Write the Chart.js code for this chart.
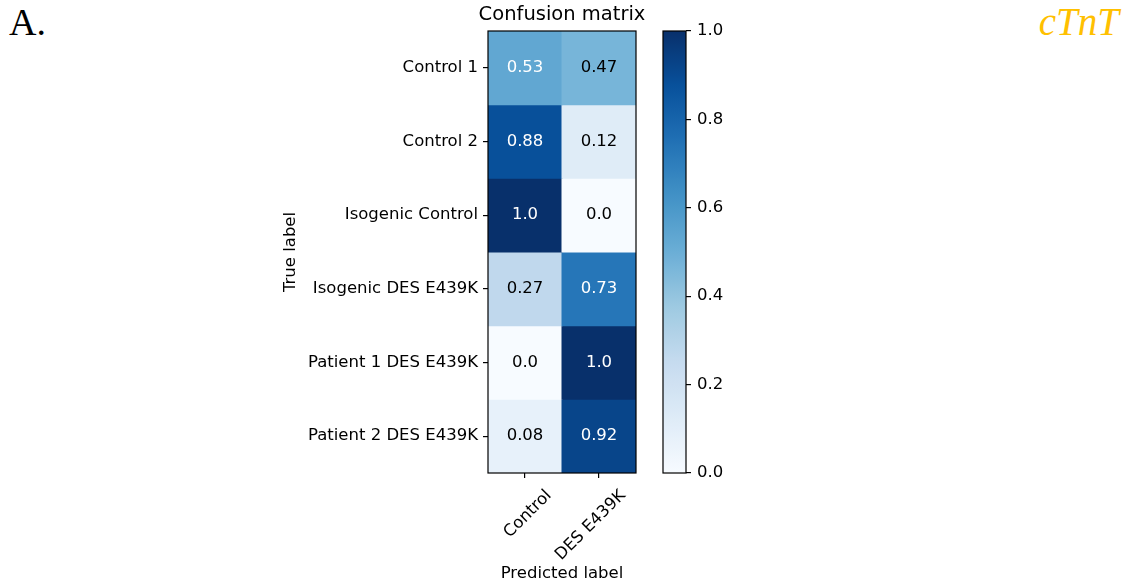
<!DOCTYPE html>
<html><head><meta charset="utf-8">
<script src="https://cdn.jsdelivr.net/npm/chart.js@4.4.1/dist/chart.umd.min.js"></script>
<style>
html,body{margin:0;padding:0;background:#fff;}
#wrap{position:relative;width:1126px;height:588px;overflow:hidden;background:#fff;}
canvas{position:absolute;left:0;top:0;}
.lbl{position:absolute;font-family:"Liberation Serif","DejaVu Serif",serif;font-size:38px;line-height:38px;white-space:nowrap;}
</style></head><body>
<div id="wrap">
<div class="lbl" style="left:9px;top:3px;color:#000;">A.</div>
<div class="lbl" style="right:7px;top:3px;font-style:italic;color:#FFC000;font-size:39px;">cTnT</div>
<canvas id="cm" width="1126" height="588"></canvas>
<canvas id="cb" width="1126" height="588"></canvas>
</div>
<script>
// ---- data ----
const rowLabels = ['Control 1','Control 2','Isogenic Control','Isogenic DES E439K','Patient 1 DES E439K','Patient 2 DES E439K'];
const colLabels = ['Control','DES E439K'];
const predControl = [0.53, 0.88, 1.0, 0.27, 0.0, 0.08];
const predDES     = [0.47, 0.12, 0.0, 0.73, 1.0, 0.92];
const colorbarTicks = [0.0, 0.2, 0.4, 0.6, 0.8, 1.0];
const chartTitle = 'Confusion matrix';
const xTitle = 'Predicted label';
const yTitle = 'True label';

// ---- matplotlib "Blues" colormap ----
const bluesStops = [
  [247,251,255],[222,235,247],[198,219,239],[158,202,225],[107,174,214],
  [66,146,198],[33,113,181],[8,81,156],[8,48,107]
];
function blues(v){
  v = Math.max(0, Math.min(1, v));
  const p = v*(bluesStops.length-1);
  const i = Math.min(Math.floor(p), bluesStops.length-2);
  const t = p - i;
  const a = bluesStops[i], b = bluesStops[i+1];
  const c = a.map((x,k)=>Math.round(x + (b[k]-x)*t));
  return `rgb(${c[0]},${c[1]},${c[2]})`;
}
function fmt(v){ return Number.isInteger(v) ? v.toFixed(1) : String(v); }

const FONT = '"DejaVu Sans", "Liberation Sans", sans-serif';
const matrix = rowLabels.map((_, r) => [predControl[r], predDES[r]]);

const framePlugin = {
  id: 'frame',
  afterDatasetsDraw(chart){
    const {ctx, chartArea:a} = chart;
    ctx.save();
    ctx.strokeStyle = '#000';
    ctx.lineWidth = 1.2;
    ctx.strokeRect(a.left, a.top, a.right - a.left, a.bottom - a.top);
    ctx.restore();
  }
};

const cellTextPlugin = {
  id: 'cellText',
  afterDatasetsDraw(chart){
    const ctx = chart.ctx;
    ctx.save();
    ctx.font = '16.5px ' + FONT;
    ctx.textAlign = 'center';
    ctx.textBaseline = 'middle';
    chart.data.datasets.forEach((ds, r) => {
      const meta = chart.getDatasetMeta(r);
      meta.data.forEach((bar, c) => {
        const v = matrix[r][c];
        const p = bar.getCenterPoint();
        ctx.fillStyle = v > 0.5 ? '#ffffff' : '#000000';
        ctx.fillText(fmt(v), p.x, p.y);
      });
    });
    ctx.restore();
  }
};

const tickGrid = {display:true, drawOnChartArea:false, drawTicks:true, tickLength:5, color:'#000', lineWidth:1.2};

new Chart(document.getElementById('cm'), {
  type: 'bar',
  data: {
    labels: colLabels,
    datasets: rowLabels.map((name, r) => ({
      label: name,
      data: colLabels.map(() => 1),
      backgroundColor: matrix[r].map(blues),
      borderWidth: 0,
      barPercentage: 1,
      categoryPercentage: 1,
      inflateAmount: 0.5
    }))
  },
  options: {
    responsive: false,
    animation: false,
    events: [],
    layout: {padding: {left: 270, right: 272, top: 0, bottom: 0}},
    plugins: {
      legend: {display:false},
      tooltip: {enabled:false},
      title: {
        display: true, text: chartTitle, color:'#000',
        font: {family: FONT, size: 19.5, weight: 'normal'},
        padding: {top: 3.6, bottom: 4}
      }
    },
    scales: {
      x: {
        stacked: true,
        grid: Object.assign({}, tickGrid, {offset:false}),
        border: {display:false},
        ticks: {color:'#000', font:{family:FONT, size:16.5}, maxRotation:45, minRotation:45, padding:8, labelOffset:24, autoSkip:false},
        title: {display:true, text:xTitle, color:'#000', font:{family:FONT, size:16.5}, padding:{top:0, bottom:4}},
        afterFit(s){ s.height = 115; }
      },
      y: {
        type: 'linear', stacked: true, min: 0, max: rowLabels.length, reverse: true,
        grid: tickGrid,
        border: {display:false},
        afterBuildTicks(s){ s.ticks = rowLabels.map((_, i) => ({value: i + 0.5})); },
        ticks: {color:'#000', font:{family:FONT, size:16.5}, padding:5, autoSkip:false,
                callback: (v, i) => rowLabels[i]},
        title: {display:true, text:yTitle, color:'#000', font:{family:FONT, size:16.5}, padding:{top:11, bottom:0}},
        afterFit(s){ s.width = 218; }
      },
      // empty spacer axis so the title is centred over the matrix
      ySpacer: {
        type: 'linear', position: 'right', display: true,
        grid: {display:false}, border: {display:false}, ticks: {display:false},
        afterFit(s){ s.width = 218; }
      }
    }
  },
  plugins: [cellTextPlugin, framePlugin]
});

// ---- colorbar ----
new Chart(document.getElementById('cb'), {
  type: 'bar',
  data: {
    labels: [''],
    datasets: [{
      data: [[colorbarTicks[0], colorbarTicks[colorbarTicks.length-1]]],
      backgroundColor(ctx){
        const a = ctx.chart.chartArea;
        if (!a) return 'rgba(0,0,0,0)';
        const g = ctx.chart.ctx.createLinearGradient(0, a.bottom, 0, a.top);
        for (let k = 0; k <= 50; k++) g.addColorStop(k/50, blues(k/50));
        return g;
      },
      borderWidth: 0, barPercentage: 1, categoryPercentage: 1
    }]
  },
  options: {
    responsive: false,
    animation: false,
    events: [],
    layout: {padding: {left: 663, right: 0, top: 31, bottom: 115}},
    plugins: {legend:{display:false}, tooltip:{enabled:false}, title:{display:false}},
    scales: {
      x: {display:false},
      y: {
        position: 'right', min: colorbarTicks[0], max: colorbarTicks[colorbarTicks.length-1],
        grid: tickGrid,
        border: {display:false},
        afterBuildTicks(s){ s.ticks = colorbarTicks.map(v => ({value: v})); },
        ticks: {color:'#000', font:{family:FONT, size:16.5}, padding:6, callback: v => v.toFixed(1)},
        afterFit(s){ s.width = 440; }
      }
    }
  },
  plugins: [framePlugin]
});
</script>
</body></html>
